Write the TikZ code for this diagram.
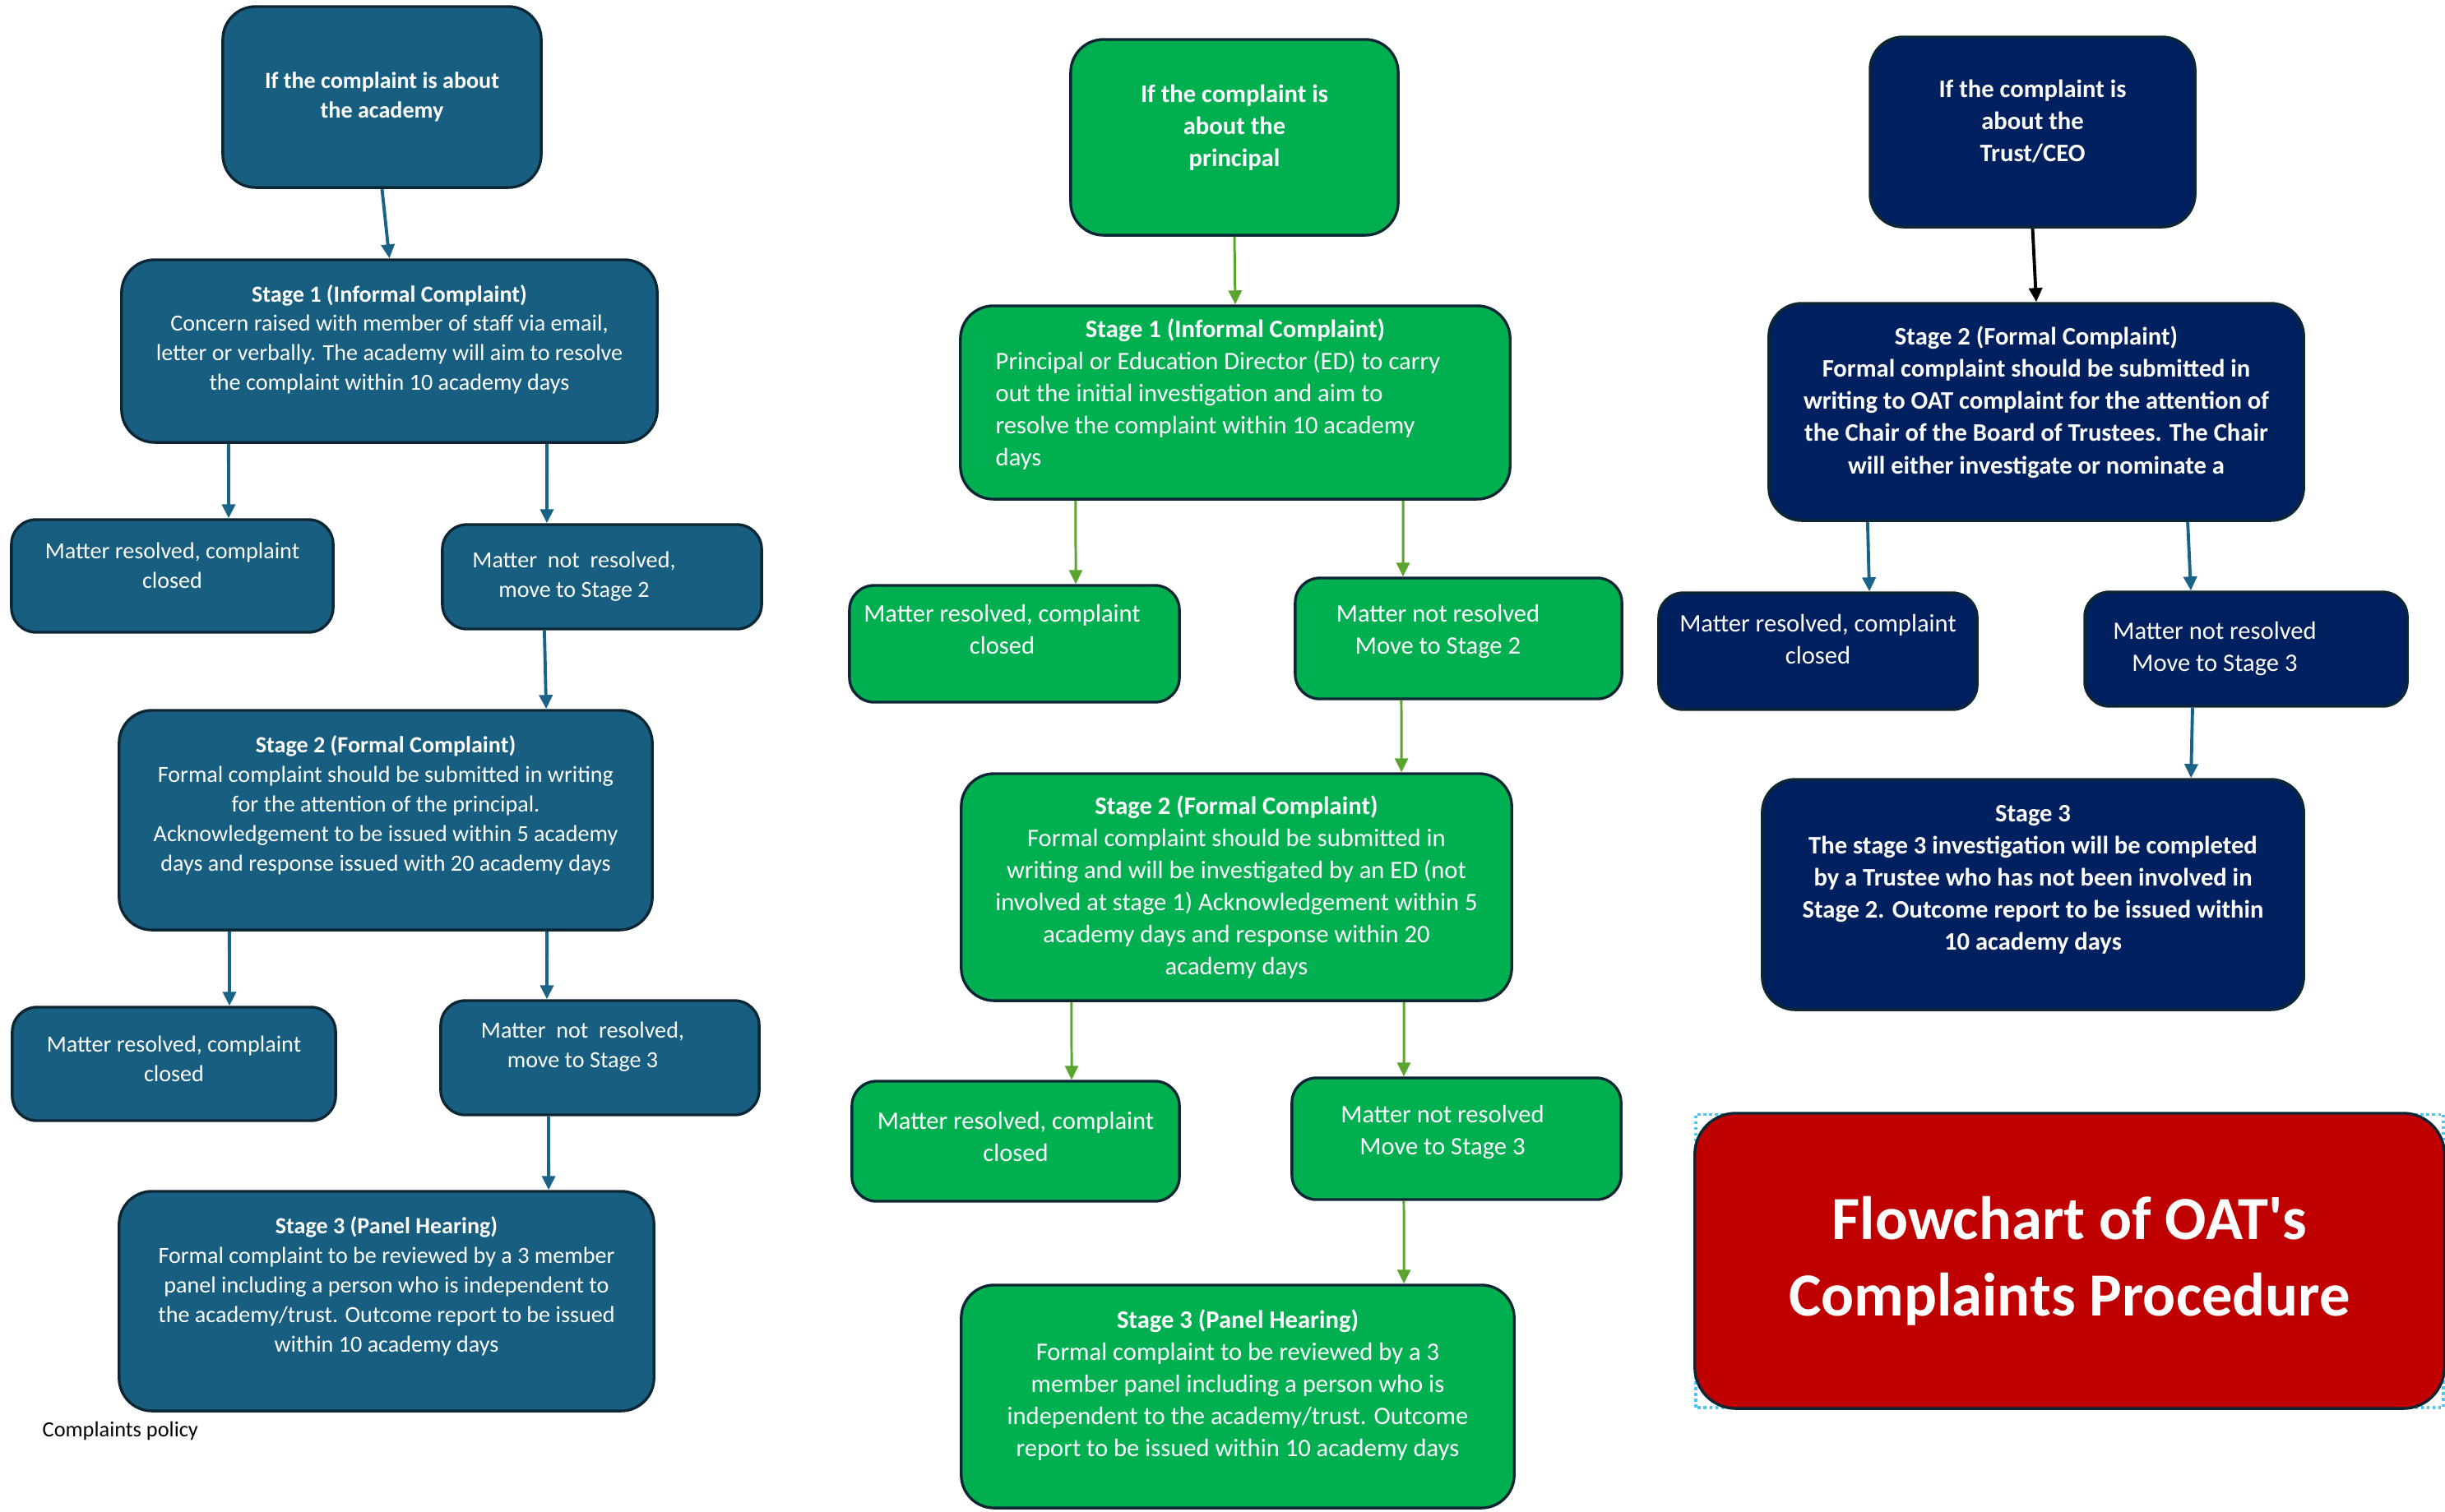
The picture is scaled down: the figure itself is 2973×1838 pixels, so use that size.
\documentclass[tikz,border=0pt]{standalone}
\usepackage{fontspec}
\setmainfont{Carlito}
\usetikzlibrary{arrows.meta}
\usetikzlibrary{backgrounds}
\definecolor{oatblue}{RGB}{23,94,128}
\definecolor{oatgreen}{RGB}{0,176,80}
\definecolor{oatnavy}{RGB}{0,32,96}
\definecolor{oatred}{RGB}{192,0,0}
\definecolor{rim}{RGB}{12,38,52}
\definecolor{arrblue}{RGB}{26,98,134}
\definecolor{arrgreen}{RGB}{90,165,48}
% extra depth under the last line, lifts the text a little
\newcommand{\padbelow}[1]{\rule[-#1]{0pt}{0pt}}

\begin{document}
\begin{tikzpicture}[x=0.01cm,y=-0.01cm]
        \tikzset{box/.style = {draw=rim, line width=0.95pt, rounded corners=0.4cm, text=white, align=center, inner sep=2pt}}
        \tikzset{bluebox/.style = {box, fill=oatblue, font=\fontsize{8}{10.2}\selectfont}}
        \tikzset{greenbox/.style = {box, fill=oatgreen, font=\fontsize{8.7}{11.1}\selectfont}}
        \tikzset{navybox/.style = {box, fill=oatnavy, font=\fontsize{8.7}{11.1}\selectfont}}
        \tikzset{small/.style = {rounded corners=0.3cm}}
        \tikzset{edge/.style = {-{Triangle[length=0.17cm,width=0.16cm]}, line width=1.1pt, arrblue}}
        \tikzset{gedge/.style = {edge, line width=0.85pt, arrgreen}}
        \useasboundingbox (0,0) rectangle (2973,1838);
        % academy
        \node[bluebox, font=\bfseries\fontsize{8}{10.2}\selectfont, minimum width=3.87cm, minimum height=2.2cm] (a0) at (464.5,118) {If the complaint is about\\the academy};
        \node[bluebox, minimum width=6.51cm, minimum height=2.22cm] (a1) at (473.5,427) {\textbf{Stage 1 (Informal Complaint)}\\Concern raised with member of staff via email,\\letter or verbally. The academy will aim to resolve\\the complaint within 10 academy days\padbelow{9.4pt}};
        \node[bluebox, small, minimum width=3.91cm, minimum height=1.37cm] (ar1) at (209.5,700.5) {Matter resolved, complaint\\closed\padbelow{7.4pt}};
        \node[bluebox, small, minimum width=3.88cm, minimum height=1.27cm] (an1) at (732,701.5) {\begin{tabular}{@{}c@{\hspace{0.68cm}}}Matter\ \ not\ \ resolved,\\move to Stage 2\end{tabular}};
        \node[bluebox, minimum width=6.48cm, minimum height=2.67cm] (a2) at (469,997.5) {\textbf{Stage 2 (Formal Complaint)}\\Formal complaint should be submitted in writing\\for the attention of the principal.\\Acknowledgement to be issued within 5 academy\\days and response issued with 20 academy days\padbelow{11.7pt}};
        \node[bluebox, small, minimum width=3.93cm, minimum height=1.38cm] (ar2) at (211.5,1294) {Matter resolved, complaint\\closed\padbelow{3.4pt}};
        \node[bluebox, small, minimum width=3.87cm, minimum height=1.39cm] (an2) at (729.5,1286.5) {\begin{tabular}{@{}c@{\hspace{0.42cm}}}Matter\ \ not\ \ resolved,\\move to Stage 3\\[7.4pt]\end{tabular}};
        \node[bluebox, minimum width=6.5cm, minimum height=2.67cm] (a3) at (470,1582.5) {\textbf{Stage 3 (Panel Hearing)}\\Formal complaint to be reviewed by a 3 member\\panel including a person who is independent to\\the academy/trust. Outcome report to be issued\\within 10 academy days\padbelow{11.7pt}};
        \node[font=\fontsize{7.5}{9}\selectfont, anchor=west, inner sep=0pt] (note) at (51,1740) {Complaints policy};
        \draw[edge] (a0.south) -- (a1.north);
        \draw[edge] ([xshift=-1.955cm]a1.south) -- ([xshift=0.685cm]ar1.north);
        \draw[edge] ([xshift=1.915cm]a1.south) -- ([xshift=-0.67cm]an1.north);
        \draw[edge] ([xshift=-0.7cm]an1.south) -- ([xshift=1.95cm]a2.north);
        \draw[edge] ([xshift=-1.9cm]a2.south) -- ([xshift=0.675cm]ar2.north);
        \draw[edge] ([xshift=1.96cm]a2.south) -- ([xshift=-0.645cm]an2.north);
        \draw[edge] ([xshift=-0.625cm]an2.south) -- ([xshift=1.97cm]a3.north);
        % principal
        \node[greenbox, font=\bfseries\fontsize{8.7}{11.1}\selectfont, minimum width=3.98cm, minimum height=2.38cm] (b0) at (1501,167) {If the complaint is\\about the\\principal\padbelow{8.2pt}};
        \node[greenbox, minimum width=6.68cm, minimum height=2.35cm] (b1) at (1502,489.5) {\begin{tabular}{@{}l@{\hspace{0.42cm}}}\multicolumn{1}{@{}c@{}}{\bfseries Stage 1 (Informal Complaint)}\\Principal or Education Director (ED) to carry\\out the initial investigation and aim to\\resolve the complaint within 10 academy\\days\\[5.1pt]\end{tabular}};
        \node[greenbox, small, minimum width=4.01cm, minimum height=1.42cm] (br1) at (1233.5,783) {\begin{tabular}{@{}c@{\hspace{0.3cm}}}Matter resolved, complaint\\closed\\[8.5pt]\end{tabular}};
        \node[greenbox, small, minimum width=3.97cm, minimum height=1.47cm] (bn1) at (1773.5,776.5) {\begin{tabular}{@{}c@{\hspace{0.5cm}}}Matter not resolved\\Move to Stage 2\\[4.6pt]\end{tabular}};
        \node[greenbox, minimum width=6.69cm, minimum height=2.76cm] (b2) at (1503.5,1079) {\textbf{Stage 2 (Formal Complaint)}\\Formal complaint should be submitted in\\writing and will be investigated by an ED (not\\involved at stage 1) Acknowledgement within 5\\academy days and response within 20\\academy days};
        \node[greenbox, small, minimum width=3.98cm, minimum height=1.46cm] (br2) at (1235,1388) {Matter resolved, complaint\\closed\padbelow{3.4pt}};
        \node[greenbox, small, minimum width=4cm, minimum height=1.48cm] (bn2) at (1771,1385) {\begin{tabular}{@{}c@{\hspace{0.34cm}}}Matter not resolved\\Move to Stage 3\\[4.6pt]\end{tabular}};
        \node[greenbox, minimum width=6.72cm, minimum height=2.71cm] (b3) at (1505,1698.5) {\textbf{Stage 3 (Panel Hearing)}\\Formal complaint to be reviewed by a 3\\member panel including a person who is\\independent to the academy/trust. Outcome\\report to be issued within 10 academy days\padbelow{9.4pt}};
        \draw[gedge] (b0.south) -- (b1.north);
        \draw[gedge] ([xshift=-1.94cm]b1.south) -- ([xshift=0.745cm]br1.north);
        \draw[gedge] ([xshift=2.04cm]b1.south) -- ([xshift=-0.675cm]bn1.north);
        \draw[gedge] ([xshift=-0.695cm]bn1.south) -- ([xshift=2.005cm]b2.north);
        \draw[gedge] ([xshift=-2.005cm]b2.south) -- ([xshift=0.68cm]br2.north);
        \draw[gedge] ([xshift=2.035cm]b2.south) -- ([xshift=-0.64cm]bn2.north);
        \draw[gedge] ([xshift=-0.64cm]bn2.south) -- ([xshift=2.02cm]b3.north);
        % trust / CEO
        \node[navybox, font=\bfseries\fontsize{8.7}{11.1}\selectfont, minimum width=3.95cm, minimum height=2.31cm] (c0) at (2471.5,160.5) {If the complaint is\\about the\\Trust/CEO\padbelow{7.7pt}};
        \node[navybox, font=\bfseries\fontsize{8.7}{11.1}\selectfont, minimum width=6.5cm, minimum height=2.64cm] (c1) at (2476,501) {Stage 2 (Formal Complaint)\\Formal complaint should be submitted in\\writing to OAT complaint for the attention of\\the Chair of the Board of Trustees. The Chair\\will either investigate or nominate a\padbelow{8.2pt}};
        \node[navybox, small, minimum width=3.87cm, minimum height=1.42cm] (cr1) at (2210.5,792) {Matter resolved, complaint\\closed\padbelow{8.5pt}};
        \node[navybox, small, minimum width=3.92cm, minimum height=1.39cm] (cn1) at (2731,789.5) {\begin{tabular}{@{}c@{\hspace{0.76cm}}}Matter not resolved\\Move to Stage 3\end{tabular}};
        \node[navybox, font=\bfseries\fontsize{8.7}{11.1}\selectfont, minimum width=6.58cm, minimum height=2.8cm] (c2) at (2472,1088) {Stage 3\\The stage 3 investigation will be completed\\by a Trustee who has not been involved in\\Stage 2. Outcome report to be issued within\\10 academy days\padbelow{11.7pt}};
        \draw[edge, black] (c0.south) -- (c1.north);
        \draw[edge] ([xshift=-2.05cm]c1.south) -- ([xshift=0.625cm]cr1.north);
        \draw[edge] ([xshift=1.84cm]c1.south) -- ([xshift=-0.67cm]cn1.north);
        \draw[edge] ([xshift=-0.65cm]cn1.south) -- ([xshift=1.92cm]c2.north);
        % title
        \node[box, fill=oatred, rounded corners=0.5cm, minimum width=9.11cm, minimum height=3.59cm, font=\bfseries\fontsize{21.2}{26.5}\selectfont] (title) at (2516.5,1533.5) {Flowchart of OAT\textquotesingle s\\Complaints Procedure};
        \begin{scope}[on background layer]
        \draw[cyan!70, densely dotted, line width=1pt] ([shift={(0.03cm,0.03cm)}]title.south west) rectangle ([shift={(-0.03cm,-0.03cm)}]title.north east);
        \end{scope}
\end{tikzpicture}
\end{document}
